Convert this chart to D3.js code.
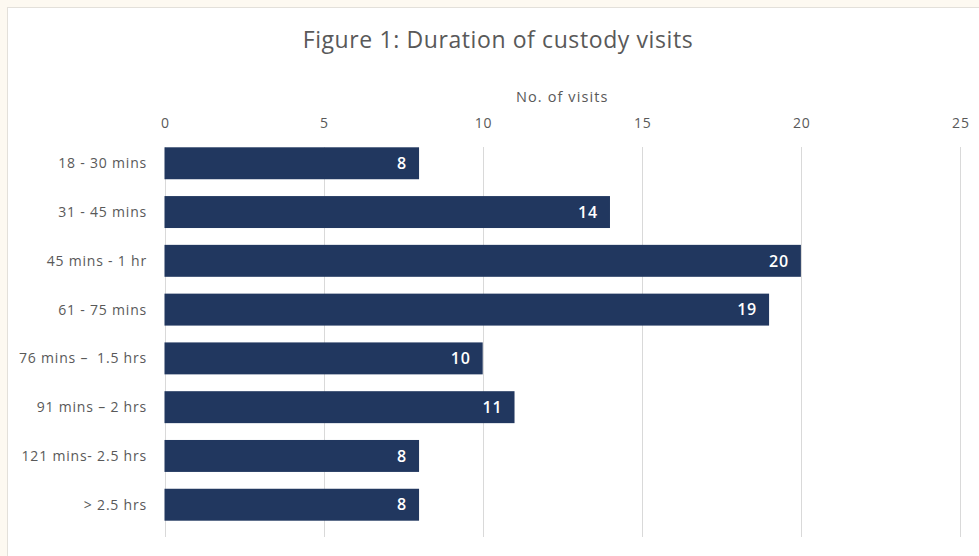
<!DOCTYPE html>
<html>
<head>
<meta charset="utf-8">
<script src="https://cdn.jsdelivr.net/npm/d3@7"></script>
<style>
  html, body { margin: 0; padding: 0; background: #fdf9f1; }
  svg { display: block; }
  text { font-family: "Open Sans", Lato, "Liberation Sans", sans-serif; white-space: pre; }
</style>
</head>
<body>
<svg id="chart" width="979" height="556"></svg>
<script>
// Durations and counts of custody visits
const categories = [
  "18 - 30 mins",
  "31 - 45 mins",
  "45 mins - 1 hr",
  "61 - 75 mins",
  "76 mins \u2013  1.5 hrs",
  "91 mins \u2013 2 hrs",
  "121 mins- 2.5 hrs",
  "> 2.5 hrs"
];
const visits = [8, 14, 20, 19, 10, 11, 8, 8];
const xTicks = [0, 5, 10, 15, 20, 25];
const titleText = "Figure 1: Duration of custody visits";
const axisTitle = "No. of visits";

const svg = d3.select("#chart");
const W = 979, H = 556;

// chart panel
svg.append("rect")
  .attr("x", 7.5).attr("y", 7.5)
  .attr("width", W).attr("height", H)
  .attr("fill", "#ffffff")
  .attr("stroke", "#e3e0da").attr("stroke-width", 1);

const plot = { left: 164.5, right: 960, top: 147, bottom: 537 };

const x = d3.scaleLinear().domain([0, 25]).range([plot.left, plot.right]);
const y = d3.scaleBand().domain(categories)
  .range([139, 529]).paddingInner(0.345).paddingOuter(0.17);

// vertical gridlines
svg.append("g").selectAll("line")
  .data(xTicks)
  .join("line")
  .attr("x1", d => Math.round(x(d)) + 0.5)
  .attr("x2", d => Math.round(x(d)) + 0.5)
  .attr("y1", plot.top).attr("y2", plot.bottom)
  .attr("stroke", "#d9d9d9").attr("stroke-width", 1);

// top axis labels
const axis = d3.axisTop(x).tickValues(xTicks).tickSize(0).tickPadding(0);
const gAxis = svg.append("g").attr("transform", "translate(0,128)").call(axis);
gAxis.select(".domain").remove();
gAxis.selectAll("text")
  .attr("fill", "#595959")
  .attr("font-size", 14)
  .attr("letter-spacing", 0.8)
  .attr("dx", 0.4)
  .style("font-family", "'Open Sans', Lato, sans-serif");

// category labels
svg.append("g").selectAll("text")
  .data(categories)
  .join("text")
  .attr("x", 147)
  .attr("y", d => y(d) + y.bandwidth() / 2)
  .attr("dy", "0.35em")
  .attr("text-anchor", "end")
  .attr("fill", "#595959")
  .attr("font-size", 14)
  .attr("letter-spacing", 0.8)
  .text(d => d);

// bars
svg.append("g").selectAll("rect")
  .data(visits)
  .join("rect")
  .attr("x", x(0))
  .attr("y", (d, i) => y(categories[i]))
  .attr("width", d => x(d) - x(0))
  .attr("height", y.bandwidth())
  .attr("fill", "#21375f");

// value labels inside bar ends
svg.append("g").selectAll("text")
  .data(visits)
  .join("text")
  .attr("x", d => x(d) - 12)
  .attr("y", (d, i) => y(categories[i]) + y.bandwidth() / 2)
  .attr("dy", "0.36em")
  .attr("text-anchor", "end")
  .attr("fill", "#ffffff")
  .attr("font-size", 16)
  .attr("font-weight", 600)
  .attr("letter-spacing", 0.8)
  .text(d => d);

// titles
svg.append("text")
  .attr("x", 498).attr("y", 48)
  .attr("text-anchor", "middle")
  .attr("fill", "#595959")
  .attr("font-size", 23)
  .attr("letter-spacing", 0.6)
  .text(titleText);

svg.append("text")
  .attr("x", (plot.left + plot.right) / 2).attr("y", 102)
  .attr("text-anchor", "middle")
  .attr("fill", "#595959")
  .attr("font-size", 14.5)
  .attr("letter-spacing", 1.1)
  .text(axisTitle);
</script>
</body>
</html>
